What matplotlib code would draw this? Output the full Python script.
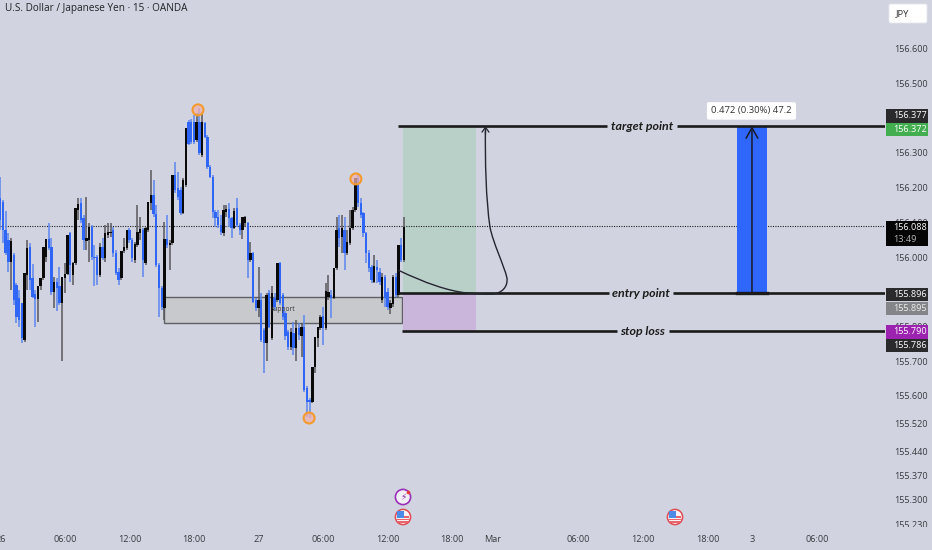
import matplotlib
matplotlib.use("Agg")
import matplotlib.pyplot as plt
from matplotlib.patches import Rectangle, FancyBboxPatch, Circle, PathPatch
from matplotlib.path import Path
from matplotlib.transforms import Affine2D, Bbox

plt.rcParams['font.family'] = ['Open Sans', 'DejaVu Sans']

# candle values (15-minute bars), prices in JPY; u = rising candle, d = falling candle
direction = ("ddddudddd" "u"
             "udddu" "uuudd"
             "udduuuduuu"
             "dduuddduDu".lower() +
             "uuddduuudd"
             "uuuduuuddd"
             "duduuddduu"
             "dddududddd"
             "ddduuddudd"
             "uududdudd" "u"
             "dududdddud"
             "ududdduuuu"
             "duuduududu"
             "uuuddddddu"
             "ddudduudud"
             "u")
highs = [156.231,156.164,156.133,156.068,156.054,156.011,155.924,155.905,155.867,155.953,
         156.049,156.039,155.981,155.905,155.915,155.939,156.030,156.052,156.097,156.054,
         155.943,155.939,155.972,155.943,155.982,156.063,156.073,155.987,156.140,156.169,
         156.169,156.121,156.174,156.097,156.092,156.035,156.006,156.039,156.054,156.092,
         156.097,156.099,156.087,156.020,155.967,156.018,156.054,156.078,156.083,156.054,
         156.044,156.150,156.116,156.083,156.087,156.159,156.251,156.222,156.150,155.982,
         155.915,156.102,156.121,156.049,156.236,156.275,156.246,156.203,156.227,156.371,
         156.395,156.399,156.409,156.414,156.428,156.419,156.390,156.351,156.265,156.236,
         156.135,156.135,156.121,156.150,156.150,156.155,156.116,156.140,156.169,156.097,
         156.116,156.118,156.102,156.044,156.015,155.881,155.970,155.895,155.795,155.895,
         155.905,155.915,155.895,155.984,155.987,155.895,155.843,155.790,155.795,155.814,
         155.819,155.809,155.809,155.833,155.627,155.593,155.684,155.769,155.797,155.833,
         155.857,155.924,155.948,155.905,155.967,156.116,156.121,156.121,156.116,156.078,
         156.135,156.145,156.229,156.236,156.169,156.131,156.073,156.020,155.977,156.006,
         155.991,155.967,155.953,155.948,155.910,155.876,155.948,155.953,156.035,156.054,
         156.116]
body_tops = [156.169,156.159,156.078,156.049,156.047,156.006,155.919,155.881,155.867,155.953,
             156.025,156.030,155.939,155.893,155.915,155.939,156.030,156.052,156.052,156.030,
             155.929,155.929,155.915,155.943,155.950,156.063,156.068,155.982,156.140,156.153,
             156.155,156.111,156.054,156.087,156.087,156.001,156.001,156.030,156.030,156.068,
             156.073,156.073,156.078,156.011,155.958,156.018,156.030,156.078,156.078,156.049,
             156.037,156.073,156.080,156.078,156.083,156.159,156.179,156.179,156.124,155.977,
             155.910,156.051,156.051,156.041,156.236,156.236,156.198,156.193,156.222,156.371,
             156.390,156.390,156.390,156.390,156.388,156.390,156.385,156.347,156.260,156.231,
             156.131,156.116,156.092,156.135,156.137,156.138,156.111,156.132,156.140,156.092,
             156.114,156.114,156.097,156.011,156.011,155.876,155.876,155.876,155.790,155.891,
             155.895,155.895,155.881,155.984,155.982,155.891,155.838,155.785,155.785,155.782,
             155.795,155.795,155.799,155.799,155.622,155.588,155.684,155.769,155.797,155.828,
             155.830,155.902,155.900,155.891,155.967,156.078,156.083,156.083,156.078,156.044,
             156.083,156.135,156.227,156.227,156.155,156.126,156.068,156.011,155.972,155.974,
             155.972,155.958,155.943,155.943,155.900,155.867,155.941,155.943,156.035,156.035,
             156.087]
body_bottoms = [156.107,156.078,156.011,155.987,155.987,155.876,155.828,155.819,155.766,155.761,
                155.948,155.934,155.886,155.878,155.878,155.915,155.939,156.001,156.025,155.900,
                155.900,155.910,155.867,155.867,155.939,155.950,155.977,155.948,155.982,156.135,
                156.107,156.049,156.047,156.049,156.001,155.996,155.948,155.948,155.996,155.996,
                156.063,156.068,156.011,155.953,155.934,155.939,156.018,156.025,156.049,155.996,
                155.991,156.035,156.068,155.991,155.982,156.078,156.155,156.124,155.977,155.910,
                155.857,155.852,156.035,156.035,156.039,156.193,156.174,156.126,156.126,156.207,
                156.327,156.332,156.332,156.337,156.299,156.294,156.347,156.260,156.231,156.131,
                156.111,156.092,156.073,156.068,156.131,156.111,156.083,156.085,156.092,156.078,
                156.078,156.097,155.991,155.991,155.871,155.852,155.852,155.761,155.751,155.751,
                155.799,155.766,155.857,155.876,155.867,155.828,155.771,155.742,155.742,155.737,
                155.737,155.775,155.771,155.617,155.583,155.583,155.583,155.684,155.766,155.795,
                155.795,155.795,155.886,155.881,155.881,155.967,156.054,156.057,156.011,156.011,
                156.039,156.083,156.135,156.155,156.121,156.068,156.011,155.967,155.934,155.929,
                155.963,155.929,155.876,155.881,155.857,155.852,155.865,155.891,155.891,155.991,
                155.991]
lows = [156.078,156.039,156.006,155.958,155.905,155.862,155.809,155.799,155.751,155.756,
        155.905,155.905,155.881,155.799,155.814,155.905,155.934,155.985,156.020,155.891,
        155.852,155.843,155.862,155.699,155.895,155.948,155.929,155.919,155.977,156.107,
        156.097,156.020,156.020,155.987,155.991,155.915,155.919,155.943,155.991,155.987,
        156.054,156.059,156.001,155.948,155.919,155.934,156.011,156.020,156.039,155.987,
        155.982,156.030,156.049,155.943,155.977,156.073,156.135,156.116,155.972,155.828,
        155.847,155.819,156.025,155.963,156.035,156.183,156.164,156.121,156.124,156.203,
        156.323,156.327,156.327,156.332,156.294,156.289,156.342,156.255,156.227,156.111,
        156.087,156.083,156.063,156.060,156.116,156.087,156.054,156.080,156.087,156.063,
        156.051,156.087,155.939,155.987,155.867,155.843,155.828,155.756,155.665,155.699,
        155.795,155.761,155.847,155.871,155.862,155.819,155.761,155.732,155.732,155.718,
        155.699,155.761,155.713,155.612,155.540,155.535,155.579,155.665,155.742,155.790,
        155.747,155.790,155.876,155.823,155.878,155.962,156.030,156.011,155.962,156.006,
        156.035,156.078,156.131,156.145,156.111,156.059,155.982,155.958,155.924,155.924,
        155.924,155.919,155.867,155.857,155.847,155.836,155.857,155.886,155.886,155.987,
        155.987]

target_price = 156.377
entry_price = 155.896
stop_price = 155.786
last_price = 156.088
support_top, support_bottom = 155.885, 155.810
pivots_bar = [73.5, 132.2, 114.8]
pivots_price = [156.424, 156.225, 155.536]

y_ticks = [156.6, 156.5, 156.3, 156.2, 156.1, 156.0, 155.8, 155.7, 155.6,
           155.52, 155.44, 155.37, 155.3, 155.23]
x_tick_bars = [0, 24, 48, 72, 96, 120, 144, 168, 183.2, 215, 239, 263, 279.5, 303.6]
x_tick_labels = ['26', '06:00', '12:00', '18:00', '27', '06:00', '12:00', '18:00', 'Mar',
                 '06:00', '12:00', '18:00', '3', '06:00']

BG = '#d1d4e0'
BLUE = '#2f66f5'
fig = plt.figure(figsize=(9.32, 5.5), dpi=100, facecolor=BG)
W, H = 932, 550
ax = fig.add_axes([0, (H - 527) / H, 885 / W, 527 / H], facecolor=BG)
ax.set_xlim(-0.11, 328.9)
ax.set_ylim(156 - 270 / 347, 156 + 257 / 347)
for s in ax.spines.values():
    s.set_visible(False)


def bar_at(px):
    return (px - 0.3) / 2.69


ax.add_patch(Rectangle((bar_at(164), support_bottom), bar_at(402) - bar_at(164), support_top - support_bottom,
                       facecolor='#c8c9cc', edgecolor='#5f6063', lw=1, zorder=1))
ax.text(bar_at(283), 155.848, 'support', fontsize=4.8, color='#333333', ha='center', va='center', zorder=5)

ax.add_patch(Rectangle((bar_at(402.7), entry_price), bar_at(476) - bar_at(402.7), target_price - entry_price,
                       facecolor='#b9d0c9', edgecolor='none', zorder=1))
ax.add_patch(Rectangle((bar_at(402.7), stop_price), bar_at(476) - bar_at(402.7), entry_price - stop_price,
                       facecolor='#c9b6da', edgecolor='none', zorder=1))
ax.axhline(last_price, color='#222222', lw=0.8, ls=(0, (1, 1.2)), zorder=2)

for i, d in enumerate(direction):
    col, wick = ('#0a0a0a', '#58585c') if d == 'u' else (BLUE, '#5c86ee')
    ax.vlines(i, lows[i], highs[i], color=wick, lw=1.1, zorder=3)
    ax.bar(i, body_tops[i] - body_bottoms[i], bottom=body_bottoms[i], width=0.88, color=col, lw=0, zorder=4)

ax.scatter(pivots_bar, pivots_price, s=62, facecolor='#eeb0b0', alpha=0.75, edgecolor='none', zorder=5)
ax.scatter(pivots_bar, pivots_price, s=62, facecolor='none', edgecolor='#f39a2c', lw=1.5, zorder=6)

# levels with their labels
label_kw = dict(fontsize=8.9, fontweight='bold', style='italic', color='#1c1c1c', ha='center', va='center',
                family='Lato', zorder=8)
for level, start, a, b, name, cx in [(target_price, 398, 607, 677, 'target point', 642),
                                     (entry_price, 398, 609, 673, 'entry point', 641),
                                     (stop_price, 402, 617, 669, 'stop loss', 643)]:
    ax.plot([bar_at(start), bar_at(a)], [level, level], color='#1a1a1a', lw=1.9, zorder=7, solid_capstyle='butt')
    ax.plot([bar_at(b), bar_at(885)], [level, level], color='#1a1a1a', lw=1.9, zorder=7, solid_capstyle='butt')
    ax.text(bar_at(cx), level, name, **label_kw)

# long range measure
ax.add_patch(Rectangle((bar_at(737), entry_price), bar_at(767) - bar_at(737), target_price - entry_price,
                       facecolor='#2f66fb', edgecolor='none', zorder=5))
ax.plot([bar_at(737), bar_at(767)], [entry_price, entry_price], color='#1a1a1a', lw=2.4, zorder=7)
ax.annotate('', xy=(bar_at(752), target_price), xytext=(bar_at(752), entry_price),
            arrowprops=dict(arrowstyle='->,head_width=0.42,head_length=0.75', color='#1a1a2a', lw=1.1,
                            shrinkA=0, shrinkB=0), zorder=8)
ax.text(bar_at(751.5), target_price + 0.044, '0.472 (0.30%) 47.2', fontsize=6.8, color='#333333', ha='center',
        va='center', zorder=9,
        bbox=dict(boxstyle='round,pad=0.45,rounding_size=0.2', facecolor='white', edgecolor='none'))

# projected path
verts = [(398, 270), (425, 283), (448, 291), (467, 293),
         (478, 294), (485, 294), (493, 294),
         (502, 293), (508, 287), (507, 278),
         (504, 265), (493, 243), (490, 227),
         (486, 200), (485, 160), (485.5, 128)]
path = Path([(bar_at(x), 156 + (257 - y) / 347) for x, y in verts],
            [Path.MOVETO] + [Path.CURVE4] * 15)
ax.add_patch(PathPatch(path, facecolor='none', edgecolor='#25252f', lw=1.0, zorder=8))
ax.annotate('', xy=(bar_at(485.5), target_price), xytext=(bar_at(485.5), target_price - 8 / 347),
            arrowprops=dict(arrowstyle='->,head_width=0.25,head_length=0.35', color='#25252f', lw=0.9,
                            shrinkA=0, shrinkB=0), zorder=8)

# axes
ax.set_yticks(y_ticks)
ax.set_yticklabels([f'{v:.3f}' for v in y_ticks])
ax.yaxis.tick_right()
ax.set_xticks(x_tick_bars)
ax.set_xticklabels(x_tick_labels)
ax.tick_params(axis='both', length=0, labelsize=6.6, labelcolor='#3a3a3f')
ax.tick_params(axis='y', pad=6.5)
ax.tick_params(axis='x', pad=6)
clip = Bbox.from_extents(0, H - 527, W, H)
for lab in ax.get_yticklabels():
    lab.set_clip_box(clip)
    lab.set_clip_on(True)

ax.text(5 / 885, 1 - 8 / 527, 'U.S. Dollar / Japanese Yen · 15 · OANDA', transform=ax.transAxes,
        fontsize=7.2, color='#222226', ha='left', va='center', zorder=9)

# pixel overlay for the price tags and event icons
px = Affine2D().scale(1, -1).translate(0, H)


def tag(y0, y1, color, text, tcolor='white'):
    fig.add_artist(Rectangle((886, y0), 42, y1 - y0, transform=px, facecolor=color, edgecolor='none', zorder=10))
    fig.add_artist(plt.Text(893, (y0 + y1) / 2, text, transform=px, color=tcolor, fontsize=6.6, ha='left',
                            va='center', zorder=11))


tag(109, 123, '#2a2a2c', '156.377')
tag(123, 136, '#43ae50', '156.372')
tag(221, 246, '#050505', '')
fig.add_artist(plt.Text(893, 227, '156.088', transform=px, color='white', fontsize=6.6, va='center', zorder=11))
fig.add_artist(plt.Text(893, 239, '13:49', transform=px, color='#b5b5b5', fontsize=6.6, va='center', zorder=11))
tag(288, 301, '#2a2a2c', '155.896')
tag(302, 315, '#848588', '155.895', '#ececec')
tag(325, 338.5, '#9c22b0', '155.790')
tag(338.5, 352, '#2a2a2c', '155.786')

fig.add_artist(FancyBboxPatch((889, 4), 38, 19, boxstyle='round,pad=0,rounding_size=2', transform=px,
                              facecolor='white', edgecolor='#e6e6ee', lw=0.6, zorder=10))
fig.add_artist(plt.Text(896, 14, 'JPY', transform=px, color='#333333', fontsize=6.8, va='center', zorder=11))


def flag(cx, cy):
    fig.add_artist(Circle((cx, cy), 7.6, transform=px, facecolor='#f4f4f6', edgecolor='#e04a52', lw=1.1, zorder=10))
    for dy, w in [(1.5, 6.0), (4.2, 5.2)]:
        fig.add_artist(Rectangle((cx - w, cy + dy), 2 * w, 1.4, transform=px, facecolor='#e8646a', edgecolor='none',
                                 zorder=11))
    fig.add_artist(Rectangle((cx + 0.5, cy - 1.2), 5.5, 1.8, transform=px, facecolor='#e8646a', edgecolor='none',
                             zorder=11))
    fig.add_artist(Rectangle((cx - 6, cy - 6), 6.5, 6.6, transform=px, facecolor='#4a8ce6', edgecolor='none',
                             zorder=11))


flag(403, 517)
flag(675, 517)
fig.add_artist(Circle((403, 497), 7.6, transform=px, facecolor='#f2eef6', edgecolor='#9a30b8', lw=1.2, zorder=10))
fig.add_artist(plt.Text(403, 497, '⚡', transform=px, color='#8a2aa8', fontsize=6.5, ha='center', va='center',
                        family='DejaVu Sans', zorder=11))
fig.add_artist(Circle((408.5, 492.5), 1.8, transform=px, facecolor='#e53935', edgecolor='none', zorder=12))

fig.savefig('out.png', dpi=100, facecolor=BG)
